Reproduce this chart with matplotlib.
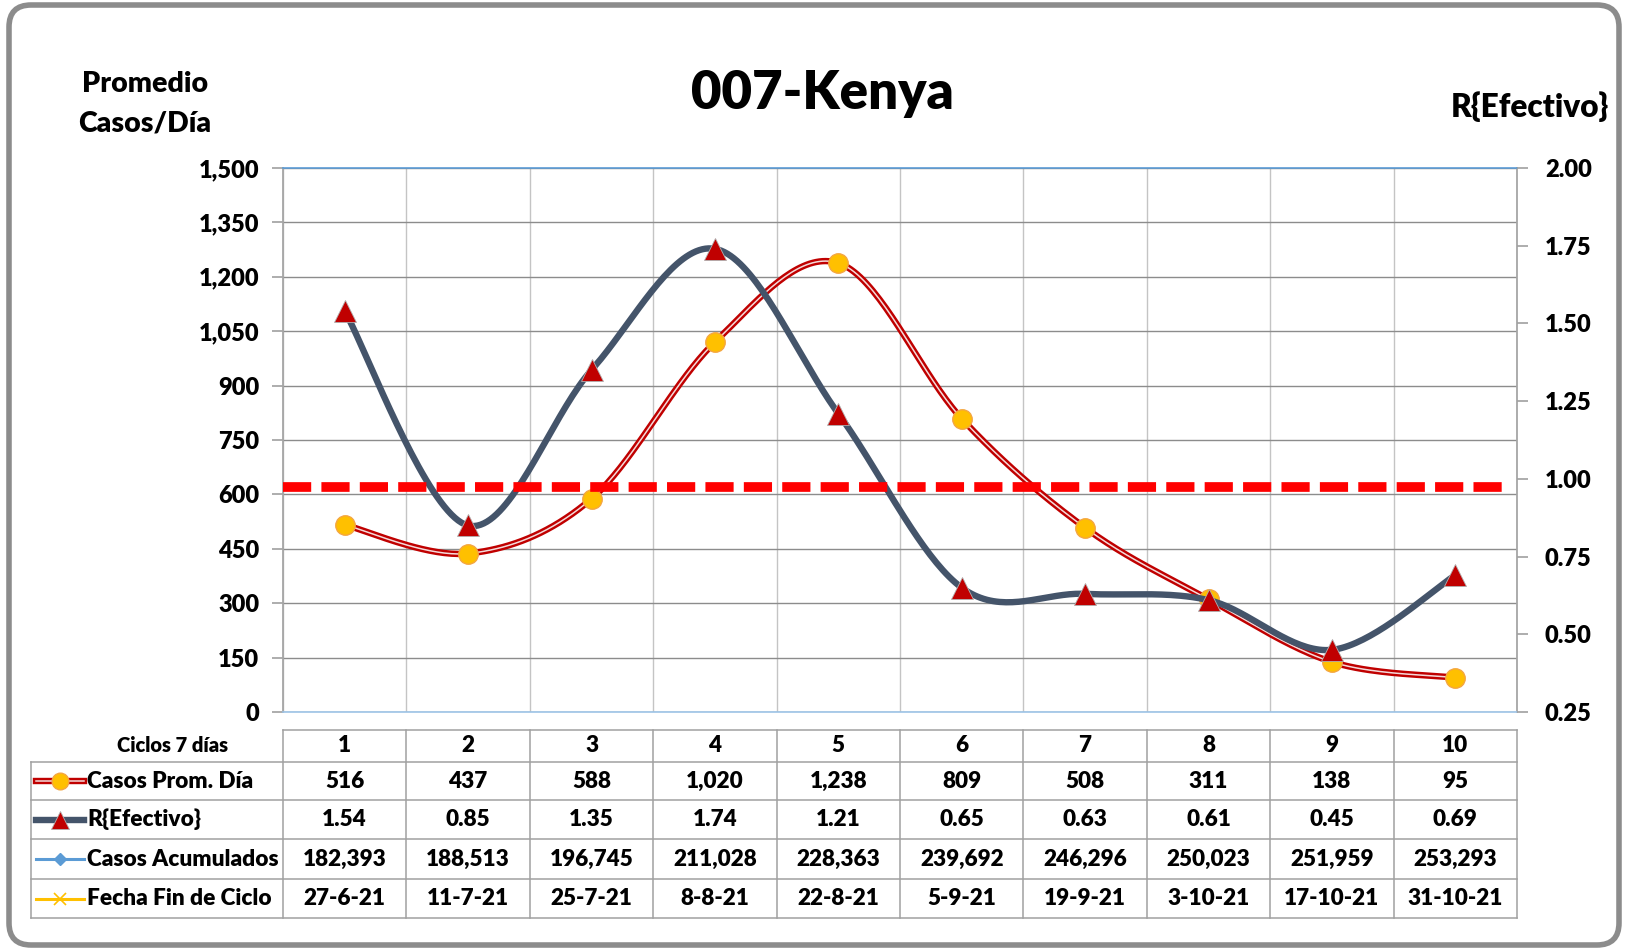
import numpy as np
import matplotlib
matplotlib.use("Agg")
import matplotlib.pyplot as plt
from matplotlib.patches import FancyBboxPatch
import matplotlib.ticker as mticker

# ---------------- data ----------------
cycles = [1, 2, 3, 4, 5, 6, 7, 8, 9, 10]
casos_prom = [516, 437, 588, 1020, 1238, 809, 508, 311, 138, 95]
r_efectivo = [1.54, 0.85, 1.35, 1.74, 1.21, 0.65, 0.63, 0.61, 0.45, 0.69]
casos_acum = [182393, 188513, 196745, 211028, 228363, 239692, 246296, 250023, 251959, 253293]
fecha_fin = ["27-6-21", "11-7-21", "25-7-21", "8-8-21", "22-8-21", "5-9-21",
             "19-9-21", "3-10-21", "17-10-21", "31-10-21"]
r_reference = 0.975

title = "007-Kenya"
left_label = "Promedio\nCasos/Día"
right_label = "R{Efectivo}"
header_label = "Ciclos 7 días"
row_labels = ["Casos Prom. Día", "R{Efectivo}", "Casos Acumulados", "Fecha Fin de Ciclo"]

plt.rcParams['font.family'] = ['Lato', 'DejaVu Sans']
FW = 800
plt.rcParams['font.weight'] = FW

W, H = 1628, 952
fig = plt.figure(figsize=(W / 100, H / 100), dpi=100)

# background axes in pixel coordinates
bg = fig.add_axes([0, 0, 1, 1], zorder=0)
bg.set_xlim(0, W)
bg.set_ylim(H, 0)
bg.axis("off")

frame = FancyBboxPatch((9, 5), W - 18, H - 12, boxstyle="round,pad=0,rounding_size=22",
                       fc="white", ec="#8C8C8C", lw=4.0, transform=bg.transData)
bg.add_patch(frame)

# plot area
L, R_, T, B = 283, 1517, 168, 712
ax = fig.add_axes([L / W, 1 - B / H, (R_ - L) / W, (B - T) / H], zorder=1)
ax.set_xlim(0.5, 10.5)
ax.set_ylim(0, 1500)
ax.set_yticks(np.arange(0, 1501, 150))
ax.yaxis.set_major_formatter(mticker.FuncFormatter(lambda v, p: f"{int(v):,}"))
ax.set_xticks([])
ax.set_xticks(np.arange(0.5, 10.6, 1), minor=True)
ax.grid(axis="y", color="#8C8C8C", lw=1.0)
ax.grid(axis="x", which="minor", color="#C4C4C4", lw=1.0)
ax.tick_params(axis="x", which="both", length=0)
ax.tick_params(axis="y", direction="out", length=8, color="#A0A0A0", width=1.2,
               labelsize=17, pad=9)
for lbl in ax.get_yticklabels():
    lbl.set_fontweight(FW)
for s in ["left", "right"]:
    ax.spines[s].set_color("#A6A6A6")
    ax.spines[s].set_linewidth(1.3)
ax.spines["top"].set_color("#5B9BD5")
ax.spines["bottom"].set_color("#9DC3E6")
ax.spines["top"].set_linewidth(1.2)
ax.spines["bottom"].set_linewidth(1.2)
ax.set_axisbelow(True)


def smooth(x, y, n=40):
    pts = np.column_stack([np.asarray(x, float), np.asarray(y, float)])
    P = np.vstack([pts[0], pts, pts[-1]])
    out = []
    t = np.linspace(0, 1, n)[:, None]
    for i in range(1, len(P) - 2):
        p0, p1, p2, p3 = P[i - 1], P[i], P[i + 1], P[i + 2]
        c1 = p1 + (p2 - p0) / 6
        c2 = p2 - (p3 - p1) / 6
        b = (1 - t) ** 3 * p1 + 3 * (1 - t) ** 2 * t * c1 + 3 * (1 - t) * t ** 2 * c2 + t ** 3 * p2
        out.append(b if i == 1 else b[1:])
    return np.vstack(out)


sc = smooth(cycles, casos_prom)
ax.plot(sc[:, 0], sc[:, 1], color="#C00000", lw=4.6, solid_capstyle="round", zorder=3)
ax.plot(sc[:, 0], sc[:, 1], color="#F4DADA", lw=1.1, zorder=3.1)
ax.plot(cycles, casos_prom, ls="none", marker="o", ms=14, mfc="#FFC000",
        mec="#F4A640", mew=1.0, zorder=4)

ax2 = ax.twinx()
ax2.set_zorder(2)
ax2.patch.set_visible(False)
ax2.set_ylim(0.25, 2.0)
ax2.set_yticks(np.arange(0.25, 2.01, 0.25))
ax2.yaxis.set_major_formatter(mticker.FormatStrFormatter("%.2f"))
ax2.tick_params(axis="y", direction="out", length=8, color="#A0A0A0", width=1.2,
                labelsize=17, pad=12)
for lbl in ax2.get_yticklabels():
    lbl.set_fontweight(FW)
for s in ax2.spines.values():
    s.set_visible(False)

sr = smooth(cycles, r_efectivo)
ax2.plot(sr[:, 0], sr[:, 1], color="#44546A", lw=4.6, solid_capstyle="round", zorder=3)
ax2.plot(cycles, r_efectivo, ls="none", marker="^", ms=15.5, mfc="#C00000",
         mec="#B0B0B0", mew=0.6, zorder=4)
ax2.plot([0.5, 10.4], [r_reference, r_reference], color="#FF0000", lw=7.0,
         dashes=(2.9, 1.05), solid_capstyle="butt", dash_capstyle="butt", zorder=5)

# titles
bg.text(822, 94, title, ha="center", va="center", fontsize=38, fontweight=FW)
bg.text(145, 104, left_label, ha="center", va="center", fontsize=20.5, fontweight=FW,
        linespacing=1.62)
bg.text(1530, 107, right_label, ha="center", va="center", fontsize=22.8, fontweight=FW)

# ---------------- data table ----------------
to_bg = ax.transData + bg.transData.inverted()
col_edges = [to_bg.transform((xe, 0))[0] for xe in np.arange(0.5, 10.6, 1)]
col_centers = [to_bg.transform((c, 0))[0] for c in cycles]
row_edges = [730, 762, 800, 839, 879, 918]
tab_left = 31
gc = "#A0A0A0"
lw_t = 1.1
bg.plot([col_edges[0], col_edges[-1]], [row_edges[0]] * 2, color=gc, lw=lw_t)
for ye in row_edges[1:]:
    bg.plot([tab_left, col_edges[-1]], [ye] * 2, color=gc, lw=lw_t)
for xe in col_edges:
    bg.plot([xe, xe], [row_edges[0], row_edges[-1]], color=gc, lw=lw_t)
bg.plot([tab_left, tab_left], [row_edges[1], row_edges[-1]], color=gc, lw=lw_t)

row_c = [(row_edges[i] + row_edges[i + 1]) / 2 for i in range(5)]
bg.text(173, row_c[0], header_label, ha="center", va="center", fontsize=14.5, fontweight=FW)
tfs = 16.2
for i, c in enumerate(cycles):
    bg.text(col_centers[i], row_c[0], str(c), ha="center", va="center", fontsize=tfs, fontweight=FW)
    bg.text(col_centers[i], row_c[1], f"{casos_prom[i]:,}", ha="center", va="center", fontsize=tfs, fontweight=FW)
    bg.text(col_centers[i], row_c[2], f"{r_efectivo[i]:.2f}", ha="center", va="center", fontsize=tfs, fontweight=FW)
    bg.text(col_centers[i], row_c[3], f"{casos_acum[i]:,}", ha="center", va="center", fontsize=tfs, fontweight=FW)
    bg.text(col_centers[i], row_c[4], fecha_fin[i], ha="center", va="center", fontsize=tfs, fontweight=FW)

kx0, kx1 = 36, 84
km = (kx0 + kx1) / 2
y = row_c[1]
bg.plot([kx0, kx1], [y, y], color="#C00000", lw=4.6)
bg.plot([kx0, kx1], [y, y], color="#F4DADA", lw=1.1)
bg.plot([km], [y], marker="o", ms=12, mfc="#FFC000", mec="#F4A640", mew=1.0)
y = row_c[2]
bg.plot([kx0, kx1], [y, y], color="#44546A", lw=4.6)
bg.plot([km], [y], marker="^", ms=13, mfc="#C00000", mec="#B0B0B0", mew=0.6)
y = row_c[3]
bg.plot([kx0, kx1], [y, y], color="#5B9BD5", lw=2.2)
bg.plot([km], [y], marker="D", ms=6, mfc="#5B9BD5", mec="#5B9BD5")
y = row_c[4]
bg.plot([kx0, kx1], [y, y], color="#FFC000", lw=2.2)
bg.plot([km], [y], marker="x", ms=9, mec="#FFC000", mew=1.2)
for lab, y in zip(row_labels, row_c[1:]):
    bg.text(kx1 + 3, y, lab, ha="left", va="center", fontsize=16.3, fontweight=FW)

fig.savefig("out.png", dpi=100)
